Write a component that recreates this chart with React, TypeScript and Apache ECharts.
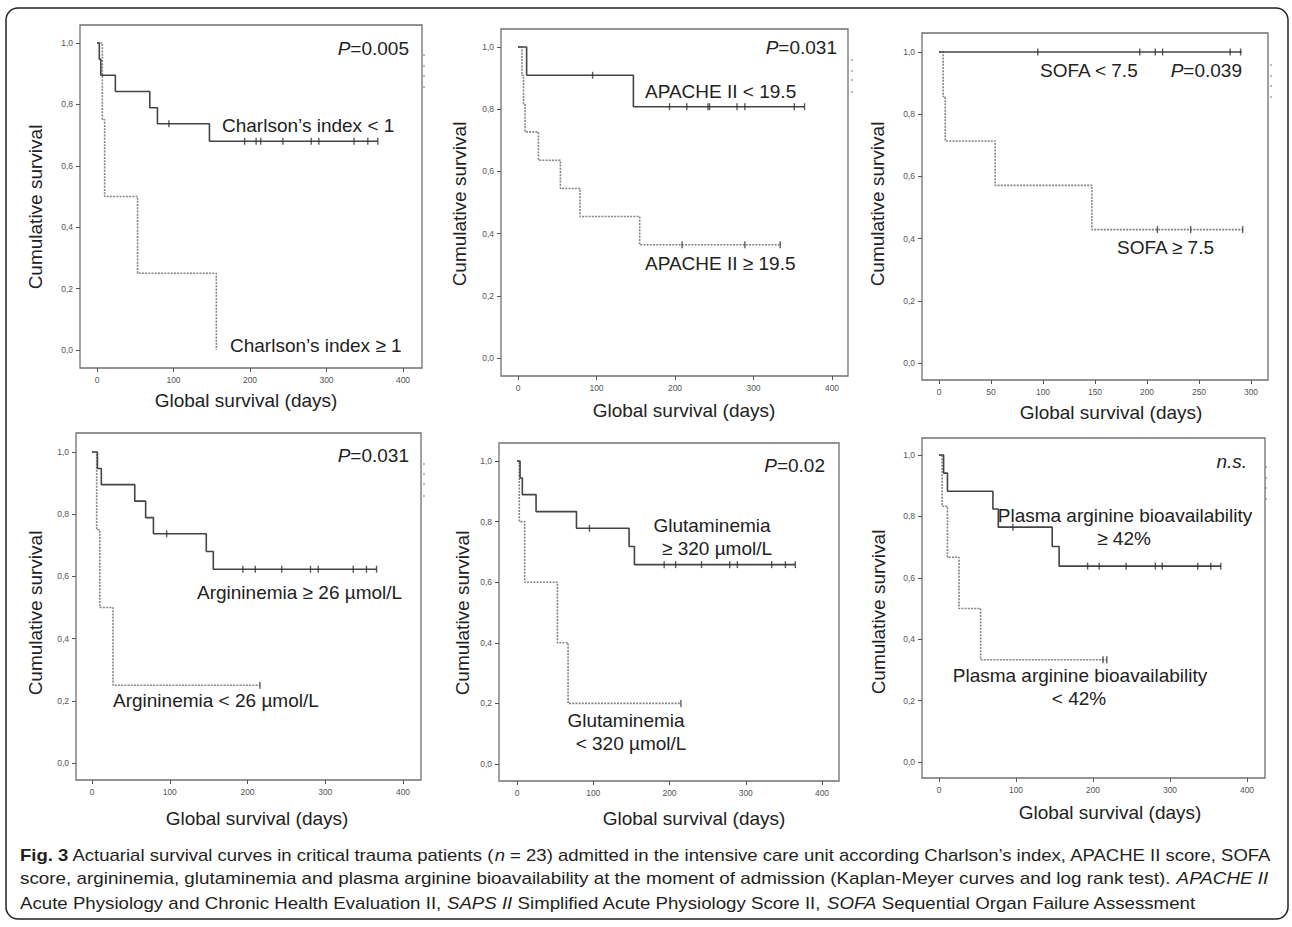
import React, { useEffect, useRef } from "react";
import * as echarts from "echarts";

// ---------------- data ----------------
const dayTicks = [0, 100, 200, 300, 400];
const sofaDayTicks = [0, 50, 100, 150, 200, 250, 300];
const survTicks = [0, 0.2, 0.4, 0.6, 0.8, 1.0];

// Panel 1: Charlson's index
const charlsonLowTimes = [0, 3, 5, 24, 69, 79, 147, 367];
const charlsonLowSurv = [1, 0.947, 0.895, 0.842, 0.789, 0.737, 0.68, 0.68];
const charlsonLowCensor = [94, 193, 208, 214, 243, 280, 290, 336, 354, 367];
const charlsonHighTimes = [0, 7, 10, 53, 156];
const charlsonHighSurv = [1, 0.75, 0.5, 0.25, 0];
const charlsonHighCensor: number[] = [];

// Panel 2: APACHE II
const apacheLowTimes = [0, 11, 147, 365];
const apacheLowSurv = [1, 0.909, 0.808, 0.808];
const apacheLowCensor = [95, 193, 215, 242, 244, 279, 289, 352, 365];
const apacheHighTimes = [0, 5, 7, 9, 26, 54, 79, 155, 334];
const apacheHighSurv = [1, 0.909, 0.818, 0.727, 0.636, 0.545, 0.455, 0.364, 0.364];
const apacheHighCensor = [209, 289, 334];

// Panel 3: SOFA
const sofaLowTimes = [0, 291];
const sofaLowSurv = [1, 1];
const sofaLowCensor = [95, 193, 208, 215, 280, 290];
const sofaHighTimes = [0, 4, 6, 54, 147, 292];
const sofaHighSurv = [1, 0.857, 0.714, 0.571, 0.429, 0.429];
const sofaHighCensor = [210, 242, 292];

// Panel 4: Argininemia
const argHighTimes = [0, 7, 12, 55, 69, 79, 147, 156, 366];
const argHighSurv = [1, 0.947, 0.895, 0.842, 0.789, 0.737, 0.68, 0.623, 0.623];
const argHighCensor = [96, 194, 210, 244, 281, 291, 336, 353, 366];
const argLowTimes = [0, 6, 10, 27, 216];
const argLowSurv = [1, 0.75, 0.5, 0.25, 0.25];
const argLowCensor = [216];

// Panel 5: Glutaminemia
const gluHighTimes = [0, 4, 7, 25, 78, 147, 154, 365];
const gluHighSurv = [1, 0.944, 0.889, 0.833, 0.778, 0.718, 0.658, 0.658];
const gluHighCensor = [95, 193, 208, 242, 279, 289, 334, 352, 365];
const gluLowTimes = [0, 3, 10, 53, 67, 215];
const gluLowSurv = [1, 0.8, 0.6, 0.4, 0.2, 0.2];
const gluLowCensor = [215];

// Panel 6: Plasma arginine bioavailability
const bioHighTimes = [0, 6, 11, 70, 77, 147, 156, 366];
const bioHighSurv = [1, 0.941, 0.882, 0.824, 0.765, 0.702, 0.638, 0.638];
const bioHighCensor = [96, 193, 208, 243, 281, 290, 336, 353, 366];
const bioLowTimes = [0, 4, 11, 26, 54, 218];
const bioLowSurv = [1, 0.833, 0.667, 0.5, 0.333, 0.333];
const bioLowCensor = [213, 218];

// caption
const captionLine1: [string, string][] = [
  ["b", "Fig. 3"],
  ["n", " Actuarial survival curves in critical trauma patients ("],
  ["i", "n"],
  ["n", " = 23) admitted in the intensive care unit according Charlson’s index, APACHE II score, SOFA"],
];
const captionLine2: [string, string][] = [
  ["n", "score, argininemia, glutaminemia and plasma arginine bioavailability at the moment of admission (Kaplan-Meyer curves and log rank test). "],
  ["i", "APACHE II"],
];
const captionLine3: [string, string][] = [
  ["n", "Acute Physiology and Chronic Health Evaluation II, "],
  ["i", "SAPS II"],
  ["n", " Simplified Acute Physiology Score II, "],
  ["i", "SOFA"],
  ["n", " Sequential Organ Failure Assessment"],
];

// ---------------- layout ----------------
const FONT = "'Liberation Sans', Arial, sans-serif";
const TXT = "#222";

type Panel = {
  box: [number, number, number, number];
  x0: number; xRef: number; xRefPx: number; y1: number; y0: number;
  ticks: number[];
  solid: [number[], number[], number[]];
  dashed: [number[], number[], number[]];
};

const panels: Panel[] = [
  { box: [80, 25, 422, 368], x0: 97, xRef: 400, xRefPx: 403, y1: 43, y0: 350, ticks: dayTicks,
    solid: [charlsonLowTimes, charlsonLowSurv, charlsonLowCensor], dashed: [charlsonHighTimes, charlsonHighSurv, charlsonHighCensor] },
  { box: [501, 29, 848, 376], x0: 518, xRef: 400, xRefPx: 832, y1: 47, y0: 358, ticks: dayTicks,
    solid: [apacheLowTimes, apacheLowSurv, apacheLowCensor], dashed: [apacheHighTimes, apacheHighSurv, apacheHighCensor] },
  { box: [922, 33, 1268, 380], x0: 939, xRef: 300, xRefPx: 1251, y1: 52, y0: 363, ticks: sofaDayTicks,
    solid: [sofaLowTimes, sofaLowSurv, sofaLowCensor], dashed: [sofaHighTimes, sofaHighSurv, sofaHighCensor] },
  { box: [76, 433, 421, 780], x0: 92, xRef: 400, xRefPx: 403, y1: 452, y0: 763, ticks: dayTicks,
    solid: [argHighTimes, argHighSurv, argHighCensor], dashed: [argLowTimes, argLowSurv, argLowCensor] },
  { box: [499, 443, 839, 781], x0: 517, xRef: 400, xRefPx: 822, y1: 461, y0: 764, ticks: dayTicks,
    solid: [gluHighTimes, gluHighSurv, gluHighCensor], dashed: [gluLowTimes, gluLowSurv, gluLowCensor] },
  { box: [922, 438, 1265, 778], x0: 939, xRef: 400, xRefPx: 1247, y1: 455, y0: 762, ticks: dayTicks,
    solid: [bioHighTimes, bioHighSurv, bioHighCensor], dashed: [bioLowTimes, bioLowSurv, bioLowCensor] },
];

// axis titles positions: [yTitleX, yTitleY, xTitleX, xTitleY]
const titlePos = [
  [35, 207, 246, 400],
  [459, 204, 684, 410],
  [877, 204, 1111, 412],
  [35, 613, 257, 818],
  [462, 613, 694, 818],
  [878, 612, 1110, 812],
];

// legend remnant dots
const dotPos = [
  [424, [55, 66, 76, 87]],
  [852, [60, 71, 80, 92]],
  [1271, [65, 76, 86, 97]],
  [424, [464, 474, 484, 496]],
  [1266, [467, 478, 488, 499]],
] as [number, number[]][];

function stepValue(times: number[], surv: number[], t: number) {
  let v = surv[0];
  for (let i = 0; i < times.length; i++) if (times[i] <= t) v = surv[i];
  return v;
}

function measure(text: string, size: number, bold: boolean, italic: boolean) {
  const c = document.createElement("canvas").getContext("2d")!;
  c.font = `${italic ? "italic " : ""}${bold ? "bold " : ""}${size}px "Liberation Sans"`;
  return c.measureText(text).width;
}

function label(text: string, x: number, y: number, align = "left", opts: any = {}) {
  return {
    type: "text", x, y, silent: true,
    style: { text, fill: TXT, fontSize: 19, fontFamily: FONT, align, verticalAlign: "middle", ...opts },
  };
}

function pLabel(value: string, x: number, y: number) {
  return {
    type: "text", x, y, silent: true,
    style: {
      text: `{i|P}{n|=${value}}`, align: "right", verticalAlign: "middle",
      fontSize: 19, fontFamily: FONT, fill: TXT,
      rich: {
        i: { fontStyle: "italic", fontSize: 19, fontFamily: FONT, fill: TXT },
        n: { fontSize: 19, fontFamily: FONT, fill: TXT },
      },
    },
  };
}

export default function App() {
  const ref = useRef<HTMLDivElement>(null);
  useEffect(() => {
    document.body.style.margin = "0";
    const chart = echarts.init(ref.current!, undefined, { renderer: "svg" });

    const grids: any[] = [];
    const xAxes: any[] = [];
    const yAxes: any[] = [];
    const series: any[] = [];

    panels.forEach((p, i) => {
      const [l, t, r, b] = p.box;
      const ppd = (p.xRefPx - p.x0) / p.xRef;
      const ppu = p.y0 - p.y1;
      grids.push({
        left: l, top: t, width: r - l, height: b - t, show: true,
        borderColor: "#707070", borderWidth: 1.3, backgroundColor: "transparent",
      });
      xAxes.push({
        type: "value", gridIndex: i, position: "bottom",
        min: (l - p.x0) / ppd, max: (r - p.x0) / ppd,
        axisLine: { show: false, onZero: false }, splitLine: { show: false },
        axisTick: { show: true, customValues: p.ticks, length: 4, lineStyle: { color: "#555", width: 1 } },
        axisLabel: { customValues: p.ticks, fontSize: 8.5, color: "#555", margin: 7, fontFamily: FONT },
      });
      yAxes.push({
        type: "value", gridIndex: i, position: "left",
        min: -(b - p.y0) / ppu, max: 1 + (p.y1 - t) / ppu,
        axisLine: { show: false, onZero: false }, splitLine: { show: false },
        axisTick: { show: true, customValues: survTicks, length: 4, lineStyle: { color: "#555", width: 1 } },
        axisLabel: {
          customValues: survTicks, fontSize: 8.5, color: "#555", margin: 7, fontFamily: FONT,
          formatter: (v: number) => v.toFixed(1).replace(".", ","),
        },
      });
      const [dt, ds, dc] = p.dashed;
      const [st, ss, sc] = p.solid;
      series.push({
        type: "line", xAxisIndex: i, yAxisIndex: i, step: "end", showSymbol: false, silent: true,
        data: dt.map((tt, j) => [tt, ds[j]]),
        lineStyle: { color: "#858585", width: 1.6, type: [2, 1.2] }, z: 2,
      });
      series.push({
        type: "line", xAxisIndex: i, yAxisIndex: i, step: "end", showSymbol: false, silent: true,
        data: st.map((tt, j) => [tt, ss[j]]),
        lineStyle: { color: "#444", width: 1.6 }, z: 3,
      });
      if (dc.length)
        series.push({
          type: "scatter", xAxisIndex: i, yAxisIndex: i, silent: true, symbol: "rect", symbolSize: [1.4, 7],
          data: dc.map((tt) => [tt, stepValue(dt, ds, tt)]), itemStyle: { color: "#333" }, z: 4,
        });
      if (sc.length)
        series.push({
          type: "scatter", xAxisIndex: i, yAxisIndex: i, silent: true, symbol: "rect", symbolSize: [1.4, 7],
          data: sc.map((tt) => [tt, stepValue(st, ss, tt)]), itemStyle: { color: "#333" }, z: 4,
        });
    });

    const graphics: any[] = [];
    graphics.push({
      type: "rect", silent: true, z: -1,
      shape: { x: 6, y: 8, width: 1282, height: 911, r: 12 },
      style: { fill: "none", stroke: "#222", lineWidth: 1.5 },
    });
    titlePos.forEach(([yx, yy, xx, xy]) => {
      graphics.push({
        type: "text", x: yx, y: yy, rotation: Math.PI / 2, silent: true,
        style: { text: "Cumulative survival", fill: TXT, fontSize: 19, fontFamily: FONT, align: "center", verticalAlign: "middle" },
      });
      graphics.push(label("Global survival (days)", xx, xy, "center"));
    });
    dotPos.forEach(([x, ys]) =>
      ys.forEach((y) =>
        graphics.push({ type: "rect", silent: true, shape: { x: x - 0.75, y: y - 0.75, width: 1.5, height: 1.5 }, style: { fill: "#888" } })
      )
    );

    // panel labels
    graphics.push(pLabel("0.005", 409, 48));
    graphics.push(label("Charlson’s index < 1", 222, 125));
    graphics.push(label("Charlson’s index ≥ 1", 230, 345));
    graphics.push(pLabel("0.031", 837, 47));
    graphics.push(label("APACHE II < 19.5", 645, 91));
    graphics.push(label("APACHE II ≥ 19.5", 645, 263));
    graphics.push(label("SOFA < 7.5", 1040, 70));
    graphics.push(pLabel("0.039", 1242, 70));
    graphics.push(label("SOFA ≥ 7.5", 1117, 247));
    graphics.push(pLabel("0.031", 409, 455));
    graphics.push(label("Argininemia ≥ 26 µmol/L", 197, 592));
    graphics.push(label("Argininemia < 26 µmol/L", 113, 700));
    graphics.push(pLabel("0.02", 825, 465));
    graphics.push(label("Glutaminemia", 712, 525, "center"));
    graphics.push(label("≥ 320 µmol/L", 717, 548, "center"));
    graphics.push(label("Glutaminemia", 626, 720, "center"));
    graphics.push(label("< 320 µmol/L", 631, 743, "center"));
    graphics.push(label("n.s.", 1247, 461, "right", { fontStyle: "italic" }));
    graphics.push(label("Plasma arginine bioavailability", 1125, 515, "center"));
    graphics.push(label("≥ 42%", 1124, 538, "center"));
    graphics.push(label("Plasma arginine bioavailability", 1080, 675, "center"));
    graphics.push(label("< 42%", 1079, 698, "center"));

    // caption
    const CS = 16;
    const lineWidth = (segs: [string, string][]) =>
      segs.reduce((s, [k, t]) => s + measure(t, CS, k === "b", k === "i"), 0);
    const s1 = 1252 / lineWidth(captionLine1);
    const s2 = 1248 / lineWidth(captionLine2);
    const s3 = (s1 + s2) / 2;
    const rich = {
      b: { fontWeight: "bold", fontSize: CS, fontFamily: FONT, fill: "#231f20" },
      i: { fontStyle: "italic", fontSize: CS, fontFamily: FONT, fill: "#231f20" },
      n: { fontSize: CS, fontFamily: FONT, fill: "#231f20" },
    };
    [[captionLine1, 855, s1], [captionLine2, 879, s2], [captionLine3, 903, s3]].forEach(([segs, y, sc]: any) => {
      graphics.push({
        type: "text", x: 20, y, scaleX: sc, silent: true,
        style: {
          text: (segs as [string, string][]).map(([k, t]) => `{${k}|${t}}`).join(""),
          rich, fontSize: CS, fontFamily: FONT, fill: "#231f20", align: "left", verticalAlign: "middle",
        },
      });
    });

    chart.setOption({
      animation: false,
      backgroundColor: "#fff",
      grid: grids,
      xAxis: xAxes,
      yAxis: yAxes,
      series,
      graphic: { elements: graphics },
    });
    return () => chart.dispose();
  }, []);
  return <div ref={ref} style={{ width: 1292, height: 927 }} />;
}
